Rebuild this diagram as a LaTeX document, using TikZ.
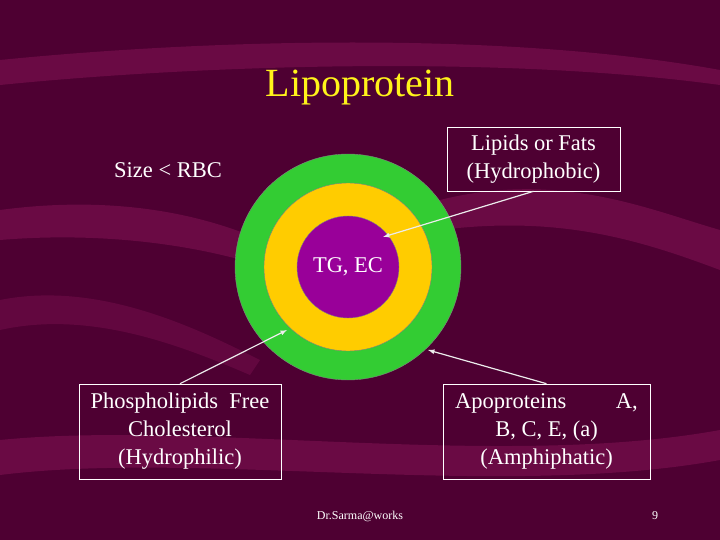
\documentclass[tikz,border=0pt]{standalone}
\usepackage{fontspec}
\setmainfont{Liberation Serif}
\begin{document}
\begin{tikzpicture}[x=1pt,y=-1pt,
  lbl/.style={text=white,font=\fontsize{22.5}{28}\selectfont,align=center},
  boxed/.style={draw=white,line width=0.6pt,inner sep=0pt},
  arr/.style={draw=white!85!gray,line width=1.2pt,-latex}]
\definecolor{bg}{HTML}{4E0032}
\definecolor{band}{HTML}{6A0A44}
\definecolor{gr}{HTML}{33CC33}
\definecolor{ye}{HTML}{FFCC00}
\definecolor{pu}{HTML}{990099}
\fill[bg] (0,0) rectangle (720,540);
\useasboundingbox (0,0) rectangle (720,540);
\fill[band] (0,60) .. controls (200,40) and (500,30) .. (720,70) -- (720,85) .. controls (500,55) and (200,65) .. (0,85) -- cycle;
\fill[band] (0,210) .. controls (150,190) and (250,230) .. (300,260) -- (300,280) .. controls (230,250) and (120,230) .. (0,240) -- cycle;
\fill[band] (440,200) .. controls (560,170) and (650,210) .. (720,230) -- (720,270) .. controls (640,240) and (560,215) .. (440,230) -- cycle;
\fill[band] (0,440) .. controls (200,420) and (500,470) .. (720,430) -- (720,460) .. controls (500,500) and (200,450) .. (0,475) -- cycle;
\fill[band!70!bg] (0,300) .. controls (100,280) and (200,330) .. (260,360) -- (250,375) .. controls (180,345) and (90,310) .. (0,330) -- cycle;
\node[text=yellow!90!white,font=\fontsize{40}{44}\selectfont] (title) at (360,88) {Lipoprotein};
\node[lbl] (size) at (168,170) {Size \textless{} RBC};
\node[circle,fill=gr,draw=gray,minimum size=226pt,inner sep=0pt] (outer) at (348,267) {};
\node[circle,fill=ye,draw=gray,minimum size=168pt,inner sep=0pt] (mid) at (348,267) {};
\node[circle,fill=pu,draw=gray,minimum size=102pt,inner sep=0pt] (core) at (348,267) {};
\node[lbl] (tg) at (348,267) {TG, EC};
\node[boxed,lbl,minimum width=173pt,minimum height=64pt] (lip) at (533.5,159) {Lipids or Fats\\(Hydrophobic)};
\node[boxed,lbl,minimum width=202pt,minimum height=95pt] (phos) at (180,431.5) {Phospholipids~~Free\\Cholesterol\\(Hydrophilic)};
\node[boxed,lbl,minimum width=207pt,minimum height=95pt] (apo) at (546.5,431.5) {Apoproteins\hspace{2.2em}A,\\B, C, E, (a)\\(Amphiphatic)};
\coordinate (c1) at (383,237);
\coordinate (c2) at (287,330);
\coordinate (c3) at (428,350);
\draw[arr] (lip.south) -- (c1);
\draw[arr] (phos.north) -- (c2);
\draw[arr] (apo.north) -- (c3);
\node[font=\fontsize{12}{14}\selectfont,text=white] (foot) at (360,516) {Dr.Sarma@works};
\node[font=\fontsize{12}{14}\selectfont,text=white] (num) at (655,516) {9};
\end{tikzpicture}
\end{document}
